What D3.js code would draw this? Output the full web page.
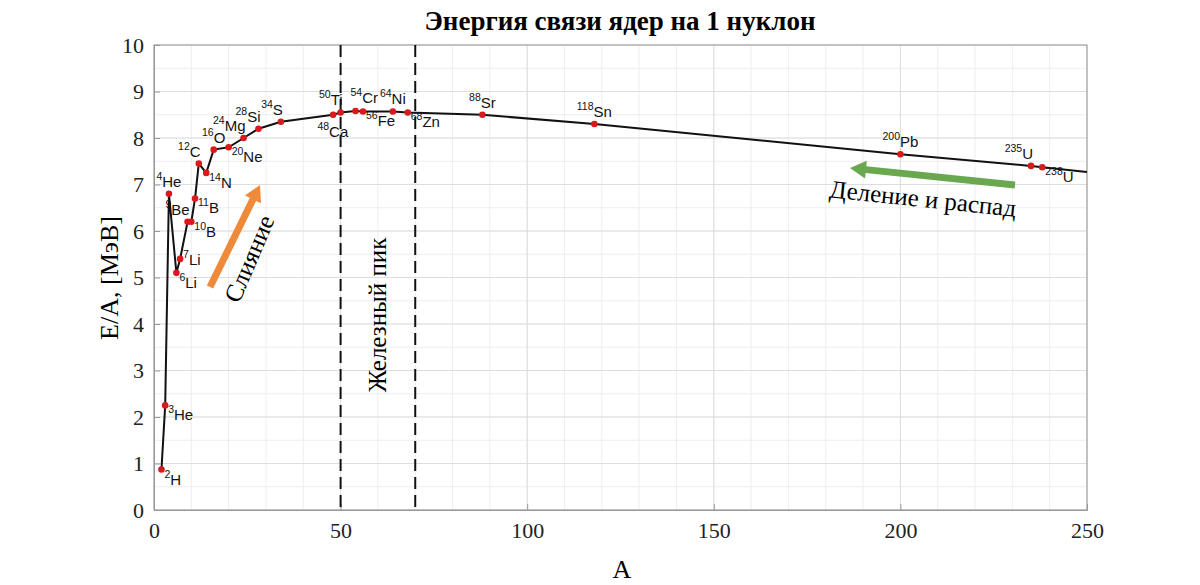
<!DOCTYPE html><html><head><meta charset="utf-8"><script src="https://cdn.jsdelivr.net/npm/d3@7"></script>
<style>body{margin:0;background:#fff}</style></head><body><svg id="c" width="1200" height="585"></svg>
<script>
const massNumbers=[2,3,4,6,7,9,10,11,12,14,16,20,24,28,34,48,50,54,56,64,68,88,118,200,235,238];
const energies=[0.87,2.25,6.8,5.1,5.4,6.2,6.2,6.7,7.45,7.25,7.75,7.8,8.0,8.2,8.35,8.5,8.55,8.58,8.57,8.57,8.55,8.5,8.3,7.65,7.4,7.37];
const elements=["H","He","He","Li","Li","Be","B","B","C","N","O","Ne","Mg","Si","S","Ca","Ti","Cr","Fe","Ni","Zn","Sr","Sn","Pb","U","U"];
// label placement: 0 right-below, 1 centered above, 2 right-above, 3 centered below, 4 left-above, 5 right-middle
const labelPos=[0,0,1,0,5,4,0,0,4,0,1,0,4,4,4,3,4,2,0,1,0,1,1,1,4,0];
const tailA=250, tailE=7.27;
const xTicks=[0,50,100,150,200,250], yTicks=[0,1,2,3,4,5,6,7,8,9,10];
const peakLines=[50,70];

const svg=d3.select("#c");
const m={l:154,r:1087,t:45,b:510};
const x=d3.scaleLinear().domain([0,250]).range([m.l,m.r]);
const y=d3.scaleLinear().domain([0,10]).range([m.b,m.t]);
const serif="'Liberation Serif','DejaVu Serif',serif";
const g=svg.append("g");
g.selectAll(".mx").data(d3.range(0,251,10)).join("line").attr("x1",d=>x(d)).attr("x2",d=>x(d)).attr("y1",m.t).attr("y2",m.b).attr("stroke","#eee");
g.selectAll(".my").data(d3.range(0,10.01,0.5)).join("line").attr("y1",d=>y(d)).attr("y2",d=>y(d)).attr("x1",m.l).attr("x2",m.r).attr("stroke","#eee");
g.selectAll(".Mx").data(xTicks).join("line").attr("x1",d=>x(d)).attr("x2",d=>x(d)).attr("y1",m.t).attr("y2",m.b).attr("stroke","#ddd");
g.selectAll(".My").data(yTicks).join("line").attr("y1",d=>y(d)).attr("y2",d=>y(d)).attr("x1",m.l).attr("x2",m.r).attr("stroke","#ddd");
svg.append("rect").attr("x",m.l).attr("y",m.t).attr("width",m.r-m.l).attr("height",m.b-m.t).attr("fill","none").attr("stroke","#999");
const xa=svg.append("g").attr("transform",`translate(0,${m.b})`).call(d3.axisBottom(x).tickValues(xTicks).tickSize(-6).tickPadding(12));
const ya=svg.append("g").attr("transform",`translate(${m.l},0)`).call(d3.axisLeft(y).tickValues(yTicks).tickSize(-6).tickPadding(10));
[xa,ya].forEach(a=>{a.select(".domain").attr("stroke","#999");a.selectAll(".tick line").attr("stroke","#999");a.selectAll("text").attr("font-family",serif).attr("font-size",22).attr("fill","#222");});
svg.selectAll(".pk").data(peakLines).join("line").attr("x1",d=>x(d)).attr("x2",d=>x(d)).attr("y1",m.t).attr("y2",m.b).attr("stroke","#111").attr("stroke-width",2).attr("stroke-dasharray","12,6");
const pts=massNumbers.map((a,i)=>[a,energies[i]]).concat([[tailA,tailE]]);
svg.append("path").attr("d",d3.line().x(d=>x(d[0])).y(d=>y(d[1]))(pts)).attr("fill","none").attr("stroke","#111").attr("stroke-width",2);
svg.selectAll(".pt").data(massNumbers).join("circle").attr("cx",d=>x(d)).attr("cy",(d,i)=>y(energies[i])).attr("r",3.3).attr("fill","#d9191c");
const lab=svg.append("g").attr("font-family","'Liberation Sans',Arial,sans-serif").attr("fill","#111");
massNumbers.forEach((a,i)=>{
  const p=labelPos[i];const px=x(a),py=y(energies[i]);
  const t=lab.append("text").attr("font-size",15);
  t.append("tspan").attr("font-size",10.5).attr("dy",-7).text(a);
  t.append("tspan").attr("dy",7).text(elements[i]);
  const w=t.node().getBBox().width;
  let tx,ty;
  if(p==0){tx=px+3;ty=py+15;}
  else if(p==1){tx=px-w/2;ty=py-7;}
  else if(p==2){tx=px-5;ty=py-8;}
  else if(p==3){tx=px-w/2;ty=py+22;}
  else if(p==5){tx=px+3;ty=py+6;}
  else {tx=px-w+2;ty=py-7;}
  t.attr("x",tx).attr("y",ty);
});
svg.append("text").attr("x",620).attr("y",30).attr("text-anchor","middle").attr("font-family",serif).attr("font-weight","bold").attr("font-size",27).text("Энергия связи ядер на 1 нуклон");
svg.append("text").attr("x",622).attr("y",578).attr("text-anchor","middle").attr("font-family",serif).attr("font-size",26).text("A");
svg.append("text").attr("transform","translate(118,278) rotate(-90)").attr("text-anchor","middle").attr("font-family",serif).attr("font-size",26).text("E/A, [МэВ]");
function arrow(x1,y1,x2,y2,col){
  const ang=Math.atan2(y2-y1,x2-x1),L=Math.hypot(x2-x1,y2-y1);
  svg.append("path").attr("transform",`translate(${x1},${y1}) rotate(${ang*180/Math.PI})`)
   .attr("d",`M0,-3.5 L${L-16},-3.5 L${L-16},-9 L${L},0 L${L-16},9 L${L-16},3.5 L0,3.5Z`).attr("fill",col);
}
arrow(210,287,260,185,"#ee8a3a");
arrow(1015,185,850,168,"#6aa84f");
svg.append("text").attr("transform","translate(257,262) rotate(-67)").attr("text-anchor","middle").attr("font-family",serif).attr("font-size",25).text("Слияние");
svg.append("text").attr("transform","translate(922,207) rotate(6)").attr("text-anchor","middle").attr("font-family",serif).attr("font-size",25).text("Деление и распад");
svg.append("text").attr("transform","translate(386,315) rotate(-90)").attr("text-anchor","middle").attr("font-family",serif).attr("font-size",25).text("Железный пик");
</script></body></html>
